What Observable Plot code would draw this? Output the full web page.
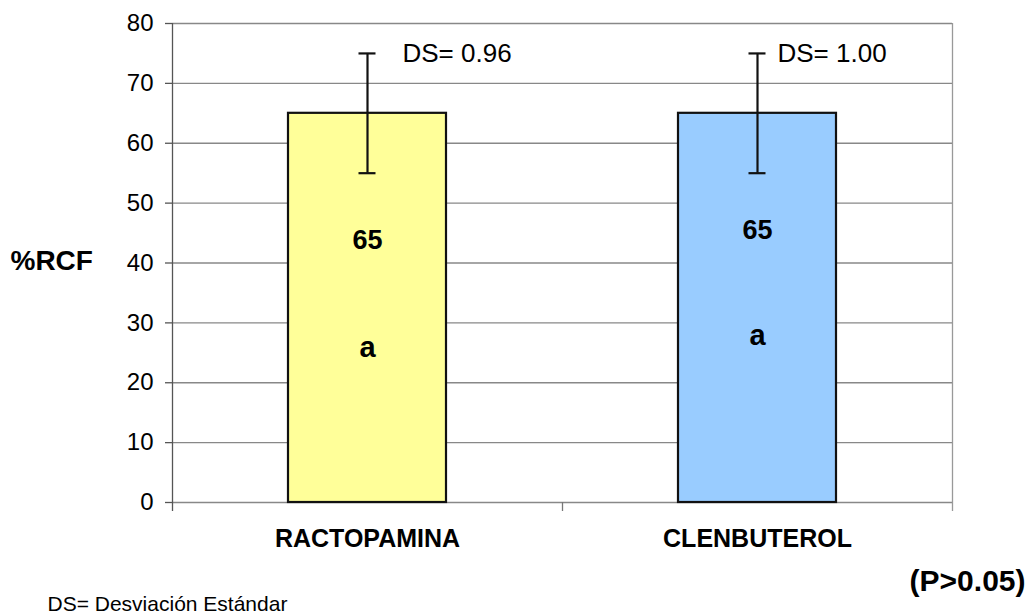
<!DOCTYPE html>
<html>
<head>
<meta charset="utf-8">
<script src="https://cdn.jsdelivr.net/npm/d3@7"></script>
<script src="https://cdn.jsdelivr.net/npm/@observablehq/plot@0.6"></script>
<style>
  html, body { margin: 0; padding: 0; background: #fff; }
  #chart { width: 1031px; height: 615px; }
  svg { font-family: "Liberation Sans", Arial, sans-serif; }
</style>
</head>
<body>
<div id="chart"></div>
<script>
// Data
const categories = ["RACTOPAMINA", "CLENBUTEROL"];
const means = [65, 65];
const errLow = [55, 55];
const errHigh = [75, 75];
const dsLabels = ["DS= 0.96", "DS= 1.00"];
const groupLetters = ["a", "a"];
const meanLabelY = [43.8, 45.5];
const letterLabelY = [25.8, 27.9];
const barColors = ["#FFFF99", "#99CCFF"];
const yTicks = [0, 10, 20, 30, 40, 50, 60, 70, 80];

const rows = categories.map((c, i) => ({
  cat: c, mean: means[i], lo: errLow[i], hi: errHigh[i],
  ds: dsLabels[i], letter: groupLetters[i],
  meanY: meanLabelY[i], letterY: letterLabelY[i], color: barColors[i]
}));

const font = "'Liberation Sans', Arial, sans-serif";

const chart = Plot.plot({
  width: 1031,
  height: 615,
  marginLeft: 172,
  marginRight: 79,
  marginTop: 23,
  marginBottom: 113,
  style: { fontFamily: font, background: "#fff", overflow: "visible" },
  x: { domain: categories, paddingInner: 0.595, paddingOuter: 0.2975, axis: null },
  y: { domain: [0, 80], axis: null },
  marks: [
    // gridlines
    Plot.ruleY(yTicks, { stroke: "#888", strokeWidth: 1.3 }),
    // left axis line & right border
    Plot.ruleX([categories[0]], { x: d => d, dx: -195, y1: -1.5, y2: 80, stroke: "#555", strokeWidth: 1.3 }),
    Plot.ruleX([categories[categories.length - 1]], { x: d => d, dx: 195, y1: -1.5, y2: 80, stroke: "#999", strokeWidth: 1.3 }),
    // category boundary tick
    Plot.ruleX(categories.slice(1), { x: d => d, dx: -195, y1: -1.5, y2: 0, stroke: "#777", strokeWidth: 1.3 }),
    // y axis
    Plot.axisY({ ticks: yTicks, tickSize: 7, tickPadding: 12, fontSize: 24, stroke: "#555", strokeWidth: 1.3, fill: "#000", label: null }),
    // bars
    Plot.barY(rows, { x: "cat", y: "mean", fill: "color", stroke: "#111", strokeWidth: 2.2 }),
    // error bars
    Plot.ruleX(rows, { x: "cat", y1: "lo", y2: "hi", stroke: "#111", strokeWidth: 2.2 }),
    Plot.tickY(rows, { x: "cat", y: "lo", stroke: "#111", strokeWidth: 2.2, insetLeft: 70.5, insetRight: 70.5 }),
    Plot.tickY(rows, { x: "cat", y: "hi", stroke: "#111", strokeWidth: 2.2, insetLeft: 70.5, insetRight: 70.5 }),
    // DS labels
    Plot.text(rows.filter((d, i) => i === 0), { x: "cat", y: "hi", text: "ds", textAnchor: "start", dx: 35, fontSize: 26, fill: "#000" }),
    Plot.text(rows.filter((d, i) => i === 1), { x: "cat", y: "hi", text: "ds", textAnchor: "start", dx: 20, fontSize: 26, fill: "#000" }),
    // value and group letters
    Plot.text(rows, { x: "cat", y: "meanY", text: d => String(d.mean), fontSize: 27, fontWeight: "bold", fill: "#000" }),
    Plot.text(rows, { x: "cat", y: "letterY", text: "letter", fontSize: 29, fontWeight: "bold", fill: "#000" }),
    // category labels
    Plot.text(categories, { x: d => d, frameAnchor: "bottom", dy: 44, text: d => d, fontSize: 25, fontWeight: "bold", fill: "#000" }),
    // y label
    Plot.text(["%RCF"], { frameAnchor: "left", dx: -162, dy: -2, textAnchor: "start", text: d => d, fontSize: 28, fontWeight: "bold", fill: "#000" }),
    // footer notes
    Plot.text(["(P>0.05)"], { frameAnchor: "bottom-right", dx: 73, dy: 88, textAnchor: "end", text: d => d, fontSize: 30, fontWeight: "bold", fill: "#000" }),
    Plot.text(["DS= Desviación Estándar"], { frameAnchor: "bottom-left", dx: -125, dy: 108, textAnchor: "start", text: d => d, fontSize: 21, fill: "#000" })
  ]
});
document.getElementById("chart").appendChild(chart);
</script>
</body>
</html>
